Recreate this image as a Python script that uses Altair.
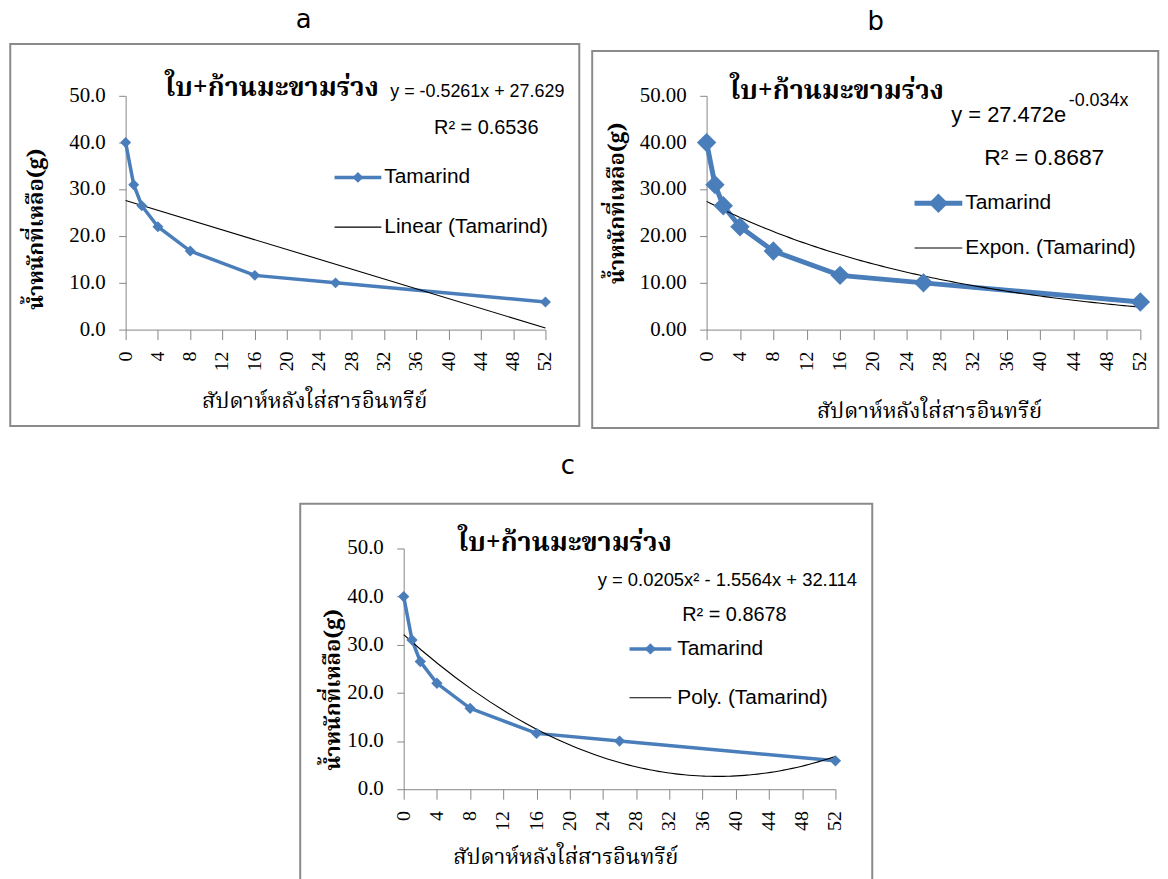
import altair as alt
import pandas as pd

# ---- data ----
weeks = [0, 1, 2, 4, 8, 16, 26, 52]
weight = [40.0, 31.0, 26.5, 22.0, 16.8, 11.6, 10.0, 5.9]
x_ticks = list(range(0, 53, 4))
y_ticks = [0, 10, 20, 30, 40, 50]

panel_letters = ["a", "b", "c"]
chart_title = ["ใบ+ก้านมะขามร่วง"]
x_title = ["สัปดาห์หลังใส่สารอินทรีย์"]
y_title = ["น้ำหนักที่เหลือ(g)"]
series_name = ["Tamarind"]
trend_names = ["Linear (Tamarind)", "Expon. (Tamarind)", "Poly. (Tamarind)"]
eq_a = ["y = -0.5261x + 27.629"]
r2_a = ["R² = 0.6536"]
eq_b = ["y = 27.472e"]
eq_b_sup = ["-0.034x"]
r2_b = ["R² = 0.8687"]
eq_c = ["y = 0.0205x² - 1.5564x + 32.114"]
r2_c = ["R² = 0.8678"]

df = pd.DataFrame({"week": weeks, "weight": weight})
xt_df = pd.DataFrame({"week": x_ticks})
yt_df = pd.DataFrame({"weight": y_ticks})

BLUE = "#4A7EBB"
GRAY = "#868686"
SERIF = "Liberation Serif"
SANS = "Liberation Sans"
THAI = "'Noto Serif Thai', 'Noto Sans Thai', Loma, Garuda, Norasi, 'DejaVu Sans', sans-serif"
LETTER = "DejaVu Sans"


def txt(words, x, y, size, font=SANS, weight="normal", angle=0, align="left", color="black"):
    d = pd.DataFrame({"t": words})
    return alt.Chart(d).mark_text(
        font=font, fontSize=size, fontWeight=weight, angle=angle,
        align=align, baseline="middle", color=color,
    ).encode(x=alt.value(x), y=alt.value(y), text="t:N")


def one(v):
    return pd.DataFrame({"k": [v]})


def panel(method, W, H, fmt, lw, psize, layout):
    L = layout

    def xenc(field):
        return alt.X(field,
                     scale=alt.Scale(domain=[0, 52], nice=False, zero=False),
                     axis=alt.Axis(values=x_ticks, labels=False, title=None, grid=False,
                                   tickSize=10, domainColor=GRAY, tickColor=GRAY))

    def yenc(field):
        return alt.Y(field,
                     scale=alt.Scale(domain=[0, 50], nice=False),
                     axis=alt.Axis(values=y_ticks, labels=False, title=None, grid=False,
                                   tickSize=7, domainColor=GRAY, tickColor=GRAY))

    base = alt.Chart(df)
    box = alt.Chart(one(0)).mark_rect(fill="white", fillOpacity=0, stroke="#8a8a8a",
                                      strokeWidth=2).encode(
        x=alt.value(L["box"][0]), x2=alt.value(L["box"][1]),
        y=alt.value(L["box"][2]), y2=alt.value(L["box"][3]))
    line = base.mark_line(color=BLUE, strokeWidth=lw).encode(
        x=xenc("week:Q"), y=yenc("weight:Q"))
    pts = base.mark_point(shape="diamond", filled=True, size=psize, color=BLUE,
                          opacity=1).encode(x=xenc("week:Q"), y=yenc("weight:Q"))
    if method == "poly":
        trend = base.transform_regression(
            "week", "weight", method="poly", order=2, extent=[0, 52]
        ).mark_line(color="black", strokeWidth=1.1).encode(
            x=xenc("week:Q"), y=yenc("weight:Q"))
    elif method == "exp":
        # Excel-style exponential trend: least squares on ln(y)
        trend = base.transform_calculate(
            ly="log(datum.weight)", xly="datum.week * log(datum.weight)",
            xx="datum.week * datum.week",
        ).transform_joinaggregate(
            mx="mean(week)", mly="mean(ly)", mxly="mean(xly)", mxx="mean(xx)",
        ).transform_calculate(
            bb="(datum.mxly - datum.mx * datum.mly) / (datum.mxx - datum.mx * datum.mx)",
        ).transform_calculate(
            aa="exp(datum.mly - datum.bb * datum.mx)",
        ).transform_filter(
            "datum.week == 0"
        ).transform_calculate(
            xs="sequence(0, 52.5, 0.5)"
        ).transform_flatten(["xs"]).transform_calculate(
            ys="datum.aa * exp(datum.bb * datum.xs)"
        ).mark_line(color="black", strokeWidth=1.1).encode(
            x=xenc("xs:Q"), y=yenc("ys:Q"))
    else:
        trend = base.transform_regression(
            "week", "weight", method="linear", extent=[0, 52]
        ).mark_line(color="black", strokeWidth=1.1).encode(
            x=xenc("week:Q"), y=yenc("weight:Q"))

    # tick labels, placed through the same scales
    xlab = alt.Chart(xt_df).mark_text(
        font=SERIF, fontSize=20, angle=270, align="right", baseline="middle",
        color="black",
    ).encode(x=xenc("week:Q"), y=alt.value(H + 22), text=alt.Text("week:Q", format="d"))
    ylab = alt.Chart(yt_df).mark_text(
        font=SERIF, fontSize=21, align="right", baseline="middle", color="black",
    ).encode(x=alt.value(-20), y=yenc("weight:Q"), text=alt.Text("weight:Q", format=fmt))

    lx0, lx1, ly1, ly2, ltx = L["legend"]
    leg_line = alt.Chart(one(0)).mark_rule(color=BLUE, strokeWidth=lw).encode(
        x=alt.value(lx0), x2=alt.value(lx1), y=alt.value(ly1))
    leg_pt = alt.Chart(one(0)).mark_point(shape="diamond", filled=True, size=psize,
                                          color=BLUE, opacity=1).encode(
        x=alt.value((lx0 + lx1) / 2), y=alt.value(ly1))
    leg_trend = alt.Chart(one(0)).mark_rule(color="black", strokeWidth=1.1).encode(
        x=alt.value(lx0), x2=alt.value(lx1), y=alt.value(ly2))

    layers = [box, line, trend, pts, xlab, ylab, leg_line, leg_pt, leg_trend,
              txt(series_name, ltx, ly1, 21),
              txt([L["trend_name"]], ltx, ly2, 21),
              txt([L["letter"]], L["letter_xy"][0], L["letter_xy"][1], 26, font=LETTER,
                  align="center"),
              txt(chart_title, L["title_xy"][0], L["title_xy"][1], 27, font=THAI,
                  weight="bold", align="center"),
              txt(x_title, L["xt_xy"][0], L["xt_xy"][1], 22, font=THAI, align="center"),
              txt(y_title, L["yt_xy"][0], L["yt_xy"][1], 22, font=THAI, align="center",
                  weight="bold", angle=270)]
    for words, x, y, size in L["texts"]:
        layers.append(txt(words, x, y, size))
    if L.get("extend"):
        layers.append(alt.Chart(one(0)).mark_rule(strokeOpacity=0).encode(
            x=alt.value(L["extend"]), y=alt.value(0), y2=alt.value(1)))
    return alt.layer(*layers).properties(width=W, height=H)


pa = panel("linear", 422, 235, ".1f", 3.5, 121, {
    "box": (-116, 456, -52, 332),
    "legend": (210, 257, 82, 132, 260),
    "trend_name": trend_names[0],
    "letter": panel_letters[0], "letter_xy": (179, -76),
    "title_xy": (147, -8),
    "xt_xy": (190, 307), "yt_xy": (-90, 134),
    "texts": [(eq_a, 266, -4, 18), (r2_a, 310, 32, 20)],
})
pb = panel("exp", 436, 235, ".2f", 5, 380, {
    "box": (-115, 454, -45, 334),
    "legend": (209, 257, 108, 153, 260),
    "trend_name": trend_names[1],
    "letter": panel_letters[1], "letter_xy": (170, -74),
    "title_xy": (131, -5),
    "xt_xy": (224, 317), "yt_xy": (-90, 108),
    "texts": [(eq_b, 246, 19, 22), (eq_b_sup, 364, 5, 18), (r2_b, 279, 63, 23)],
})
pc = panel("poly", 434, 242, ".1f", 3.5, 130, {
    "box": (-104, 471, -45, 334),
    "legend": (227, 269, 101, 150, 275),
    "trend_name": trend_names[2],
    "letter": panel_letters[2], "letter_xy": (165, -83),
    "title_xy": (162, -5),
    "xt_xy": (163, 310), "yt_xy": (-71, 142),
    "texts": [(eq_c, 195, 32, 18.5), (r2_c, 280, 67, 20)],
    "extend": 480,
})

chart = alt.vconcat(
    alt.hconcat(pa, pb, spacing=9),
    pc,
    spacing=22,
    center=True,
).properties(
    padding={"left": 0, "top": -4, "right": 0, "bottom": 0}
).configure_view(
    stroke="transparent"
).configure_axis(
    grid=False, domainColor=GRAY, tickColor=GRAY,
).configure_axisX(
    tickSize=10,
).configure_axisY(
    tickSize=7,
)

chart.save("out.html", embed_options={"renderer": "svg", "actions": False})
